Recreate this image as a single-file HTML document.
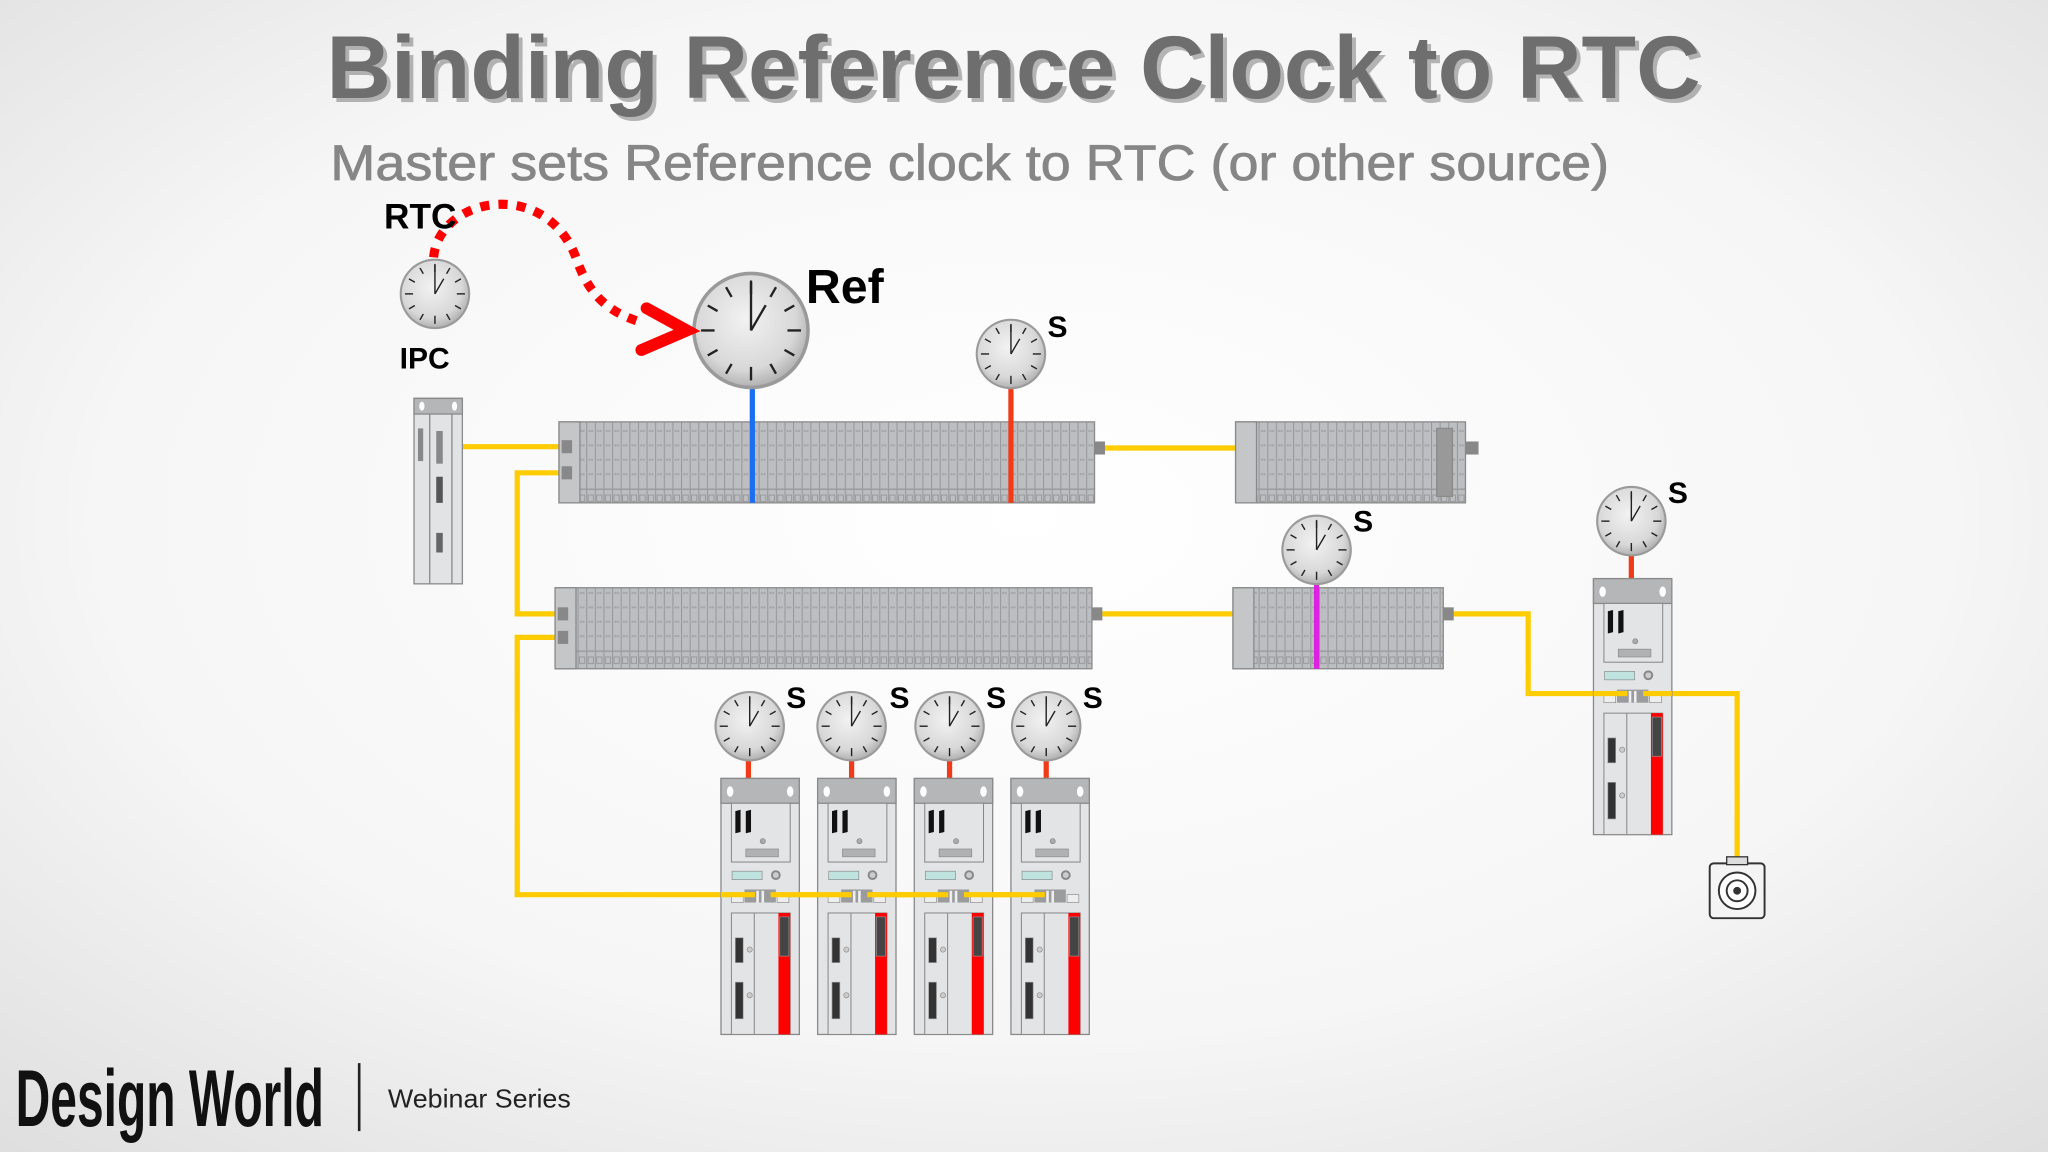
<!DOCTYPE html>
<html><head><meta charset="utf-8"><style>
html,body{margin:0;padding:0;width:2048px;height:1152px;overflow:hidden}
svg{display:block}
</style></head><body>
<svg width="2048" height="1152" viewBox="0 0 1568 882" xmlns="http://www.w3.org/2000/svg">
<defs>
<radialGradient id="bg" cx="50%" cy="45%" r="75%">
<stop offset="0" stop-color="#ffffff"/><stop offset="0.6" stop-color="#f6f6f6"/><stop offset="1" stop-color="#dedede"/>
</radialGradient>
<radialGradient id="face" cx="45%" cy="40%" r="65%">
<stop offset="0" stop-color="#f2f2f2"/><stop offset="0.7" stop-color="#d8d8d8"/><stop offset="1" stop-color="#a9a9a9"/>
</radialGradient>
<g id="clock">
<circle r="1" fill="#9a9a9a"/>
<circle r="0.94" fill="url(#face)"/>
<g stroke="#222" stroke-width="0.04">
<line x1="0" y1="-0.85" x2="0" y2="-0.62"/><line x1="0" y1="0.85" x2="0" y2="0.62"/>
<line x1="-0.85" y1="0" x2="-0.62" y2="0"/><line x1="0.85" y1="0" x2="0.62" y2="0"/>
<line x1="0.425" y1="-0.736" x2="0.33" y2="-0.57"/><line x1="0.736" y1="-0.425" x2="0.57" y2="-0.33"/>
<line x1="-0.425" y1="-0.736" x2="-0.33" y2="-0.57"/><line x1="-0.736" y1="-0.425" x2="-0.57" y2="-0.33"/>
<line x1="0.425" y1="0.736" x2="0.33" y2="0.57"/><line x1="0.736" y1="0.425" x2="0.57" y2="0.33"/>
<line x1="-0.425" y1="0.736" x2="-0.33" y2="0.57"/><line x1="-0.736" y1="0.425" x2="-0.57" y2="0.33"/>
<line x1="0" y1="0" x2="0" y2="-0.82"/><line x1="0" y1="0" x2="0.25" y2="-0.43"/>
</g>
</g>
<pattern id="cols" x="0" y="0" width="6.6" height="62" patternUnits="userSpaceOnUse">
<rect width="6.6" height="62" fill="#bcbec1"/>
<rect x="0" width="0.8" height="62" fill="#969899"/>
<rect x="1.5" y="7" width="4" height="5" fill="none" stroke="#8e9094" stroke-width="0.6"/>
<rect x="0" y="2" width="6.6" height="1.2" fill="#9a9ca0"/>
<g fill="#a2a4a8"><circle cx="2.5" cy="20" r="0.9"/><circle cx="4.5" cy="20" r="0.9"/><circle cx="2.5" cy="31" r="0.9"/><circle cx="4.5" cy="31" r="0.9"/><circle cx="2.5" cy="42" r="0.9"/><circle cx="4.5" cy="42" r="0.9"/><circle cx="2.5" cy="53" r="0.9"/><circle cx="4.5" cy="53" r="0.9"/></g>
</pattern>
<g id="drive">
<rect x="0" y="0" width="60" height="196" fill="#e3e4e6" stroke="#8a8a8a" stroke-width="1"/>
<rect x="0" y="0" width="60" height="19" fill="#b5b6b8" stroke="#8a8a8a" stroke-width="1"/>
<ellipse cx="7" cy="10" rx="2.5" ry="4" fill="#fff"/><ellipse cx="53" cy="10" rx="2.5" ry="4" fill="#fff"/>
<rect x="8" y="19" width="45" height="45" fill="#e3e4e6" stroke="#8a8a8a" stroke-width="0.8"/>
<path d="M11,25 L15,24 L15,41 L11,42Z M19,25 L23,24 L23,41 L19,42Z" fill="#111"/>
<circle cx="32" cy="48" r="2" fill="#aaa" stroke="#888" stroke-width="0.5"/>
<rect x="19" y="54" width="25" height="6" fill="#b0b1b3" stroke="#888" stroke-width="0.5"/>
<rect x="8.5" y="71" width="23" height="6.5" fill="#bfe3df" stroke="#888" stroke-width="0.5"/>
<circle cx="42" cy="74" r="3" fill="#ccc" stroke="#888" stroke-width="1.5"/>
<rect x="8" y="89" width="9" height="6" fill="#eee" stroke="#888" stroke-width="0.5"/>
<rect x="18" y="85" width="24" height="10" fill="#9a9b9d"/>
<rect x="27" y="86" width="2" height="9" fill="#eee"/><rect x="31" y="86" width="2" height="9" fill="#eee"/>
<rect x="43" y="89" width="9" height="6" fill="#eee" stroke="#888" stroke-width="0.5"/>
<rect x="8" y="103" width="45" height="93" fill="#e3e4e6" stroke="#8a8a8a" stroke-width="0.8"/>
<line x1="25.5" y1="103" x2="25.5" y2="196" stroke="#8a8a8a" stroke-width="0.8"/>
<rect x="44" y="103" width="9" height="93" fill="#f00"/>
<rect x="45" y="106" width="7" height="30" fill="#444" stroke="#999" stroke-width="0.5"/>
<rect x="11" y="122" width="6" height="19" fill="#333" stroke="#999" stroke-width="0.5"/>
<rect x="11" y="156" width="6" height="28" fill="#333" stroke="#999" stroke-width="0.5"/>
<circle cx="22" cy="131" r="2" fill="#ccc" stroke="#888" stroke-width="0.5"/>
<circle cx="22" cy="166" r="2" fill="#ccc" stroke="#888" stroke-width="0.5"/>
</g>
</defs>
<rect width="1568" height="882" fill="url(#bg)"/>

<g font-family="Liberation Sans, sans-serif">
<text x="253" y="78" textLength="1052" lengthAdjust="spacingAndGlyphs" font-size="68" font-weight="bold" fill="#3a3a3a" opacity="0.35">Binding Reference Clock to RTC</text>
<text x="250" y="75" textLength="1052" lengthAdjust="spacingAndGlyphs" font-size="68" font-weight="bold" fill="#6e6e6e">Binding Reference Clock to RTC</text>
<text x="253" y="138" textLength="979" lengthAdjust="spacingAndGlyphs" font-size="38" fill="#868686" stroke="#868686" stroke-width="0.6">Master sets Reference clock to RTC (or other source)</text>
</g>

<!-- yellow network lines -->
<g stroke="#ffcc00" stroke-width="4" fill="none">
<polyline points="354,342 436,342"/>
<polyline points="436,362 396,362 396,470 436,470"/>
<polyline points="436,488 396,488 396,685 806,685"/>
<polyline points="838,343 955,343"/>
<polyline points="836,470 955,470"/>
<polyline points="1105,470 1170,470 1170,531 1330,531 1330,662"/>
</g>

<!-- IPC -->
<rect x="317" y="305" width="37" height="142" fill="#e2e3e5" stroke="#8a8a8a"/>
<rect x="317" y="305" width="37" height="12" fill="#b5b6b8" stroke="#8a8a8a"/>
<ellipse cx="323" cy="311" rx="2" ry="3.5" fill="#fff"/><ellipse cx="348" cy="311" rx="2" ry="3.5" fill="#fff"/>
<line x1="329" y1="317" x2="329" y2="447" stroke="#8a8a8a"/><line x1="346" y1="317" x2="346" y2="447" stroke="#8a8a8a"/>
<rect x="320" y="328" width="4" height="25" fill="#888"/>
<rect x="334" y="330" width="5" height="25" fill="#888"/><rect x="334" y="365" width="5" height="20" fill="#555"/><rect x="334" y="408" width="5" height="15" fill="#666"/>

<!-- racks -->
<g stroke="#8a8a8a" stroke-width="1">
<rect x="428" y="323" width="410" height="62" fill="url(#cols)"/>
<rect x="428" y="323" width="16" height="62" fill="#c5c6c8"/>
<rect x="946" y="323" width="176" height="62" fill="url(#cols)"/>
<rect x="946" y="323" width="16" height="62" fill="#c5c6c8"/>
<rect x="1100" y="328" width="12" height="52" fill="#999"/>
<rect x="425" y="450" width="411" height="62" fill="url(#cols)"/>
<rect x="425" y="450" width="16" height="62" fill="#c5c6c8"/>
<rect x="944" y="450" width="161" height="62" fill="url(#cols)"/>
<rect x="944" y="450" width="16" height="62" fill="#c5c6c8"/>
</g>
<g fill="#888"><rect x="430" y="337" width="8" height="10"/><rect x="430" y="357" width="8" height="10"/><rect x="427" y="465" width="8" height="10"/><rect x="427" y="483" width="8" height="10"/><rect x="838" y="338" width="8" height="10"/><rect x="836" y="465" width="8" height="10"/><rect x="1105" y="465" width="8" height="10"/><rect x="1122" y="338" width="10" height="10"/></g>

<!-- clock stems -->
<line x1="576" y1="297" x2="576" y2="385" stroke="#1a6ef0" stroke-width="4"/>
<line x1="774" y1="296" x2="774" y2="385" stroke="#f03a18" stroke-width="4"/>
<line x1="1008" y1="446" x2="1008" y2="512" stroke="#e020e0" stroke-width="4"/>
<line x1="1249" y1="425" x2="1249" y2="443" stroke="#f03a18" stroke-width="4"/>
<g stroke="#f03a18" stroke-width="4"><line x1="573" y1="581" x2="573" y2="596"/><line x1="652" y1="581" x2="652" y2="596"/><line x1="727" y1="581" x2="727" y2="596"/><line x1="801" y1="581" x2="801" y2="596"/></g>

<!-- drives -->
<use href="#drive" x="552" y="596"/>
<use href="#drive" x="626" y="596"/>
<use href="#drive" x="700" y="596"/>
<use href="#drive" x="774" y="596"/>
<use href="#drive" x="1220" y="443"/>
<g stroke="#ffcc00" stroke-width="4"><line x1="552" y1="685" x2="578" y2="685"/><line x1="590" y1="685" x2="652" y2="685"/><line x1="664" y1="685" x2="726" y2="685"/><line x1="738" y1="685" x2="800" y2="685"/><line x1="1220" y1="531" x2="1246" y2="531"/><line x1="1258" y1="531" x2="1280" y2="531"/></g>

<!-- motor -->
<rect x="1309" y="661" width="42" height="42" rx="3" fill="#f4f4f4" stroke="#333" stroke-width="1.5"/>
<rect x="1322" y="656" width="16" height="6" fill="#ddd" stroke="#333"/>
<circle cx="1330" cy="682" r="14" fill="#fff" stroke="#333" stroke-width="1.5"/>
<circle cx="1330" cy="682" r="8" fill="none" stroke="#333" stroke-width="1.5"/>
<circle cx="1330" cy="682" r="3" fill="#333"/>

<!-- clocks -->
<use href="#clock" transform="translate(333,225) scale(27)"/>
<use href="#clock" transform="translate(575,253) scale(45)"/>
<use href="#clock" transform="translate(774,271) scale(27)"/>
<use href="#clock" transform="translate(1008,421) scale(27)"/>
<use href="#clock" transform="translate(1249,399) scale(27)"/>
<use href="#clock" transform="translate(574,556) scale(27)"/>
<use href="#clock" transform="translate(652,556) scale(27)"/>
<use href="#clock" transform="translate(727,556) scale(27)"/>
<use href="#clock" transform="translate(801,556) scale(27)"/>

<!-- red dotted arrow -->
<path d="M332,197 C336,150 420,135 442,200 C452,228 468,240 492,247" fill="none" stroke="#f00" stroke-width="7" stroke-dasharray="7 7"/>
<polyline points="495,236 526,253 491,268" fill="none" stroke="#f00" stroke-width="9" stroke-linecap="round" stroke-linejoin="miter"/>

<g font-family="Liberation Sans, sans-serif" font-weight="bold" fill="#000">
<text x="294" y="175" font-size="27">RTC</text>
<text x="306" y="282" font-size="23">IPC</text>
<text x="617" y="232" font-size="37">Ref</text>
<text x="802" y="258" font-size="23">S</text>
<text x="1036" y="407" font-size="23">S</text>
<text x="1277" y="385" font-size="23">S</text>
<text x="602" y="542" font-size="23">S</text>
<text x="681" y="542" font-size="23">S</text>
<text x="755" y="542" font-size="23">S</text>
<text x="829" y="542" font-size="23">S</text>
</g>

<!-- footer -->
<text x="12" y="862" textLength="236" lengthAdjust="spacingAndGlyphs" font-family="Liberation Sans Narrow, Liberation Sans, sans-serif" font-weight="bold" font-size="62" fill="#111">Design World</text>
<line x1="275" y1="814" x2="275" y2="866" stroke="#222" stroke-width="2"/>
<text x="297" y="848" textLength="140" lengthAdjust="spacingAndGlyphs" font-family="Liberation Sans, sans-serif" font-size="20" fill="#222">Webinar Series</text>
</svg>
</body></html>
